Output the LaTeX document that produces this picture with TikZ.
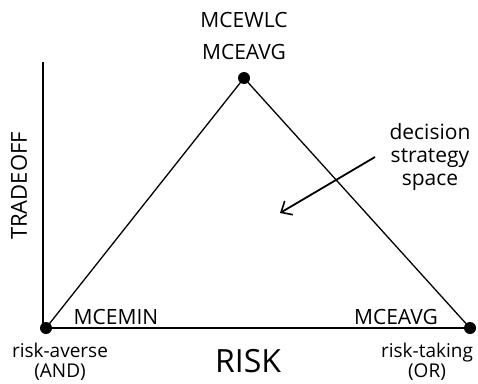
\documentclass[tikz,border=0pt]{standalone}
\usepackage{fontspec}
\setmainfont{Open Sans}
\usetikzlibrary{arrows.meta, positioning}

\begin{document}
\begin{tikzpicture}[
                x=1pt, y=-1pt,
                dot/.style={circle, fill=black, inner sep=0pt, minimum size=12pt},
                lbl/.style={inner sep=0pt, font=\fontsize{21}{23}\selectfont, align=center},
                small/.style={inner sep=0pt, font=\fontsize{19}{20}\selectfont, align=center},
                big/.style={inner sep=0pt, font=\fontsize{32}{34}\selectfont},
                axis/.style={line width=2.8pt},
                side/.style={line width=1.3pt},
                arrow/.style={-{Straight Barb[length=9pt, width=16pt, line width=1.6pt]}, line width=1.8pt}
            ]
                \useasboundingbox (0,0) rectangle (478,383);
                \node[dot] (averse) at (46,328) {};
                \node[dot] (peak) at (244,78) {};
                \node[dot] (taking) at (470,328) {};
                \coordinate (ytop) at (43,62);
                \coordinate (yfoot) at (43,329);

                \draw[axis] (ytop) -- (yfoot);
                \draw[axis] (averse.center) -- (taking.center);
                \draw[side] (averse.center) -- (peak.center) -- (taking.center);

                \node[lbl] (avgtop) at (244,52) {MCEAVG};
                \node[lbl] (wlc) at (244,20) {MCEWLC};
                \node[lbl] (min) at (116,317) {MCEMIN};
                \node[lbl] (avgright) at (396,317) {MCEAVG};
                \node[small] (left) at (60,362) {risk-averse\\(AND)};
                \node[small] (right) at (427,362) {risk-taking\\(OR)};
                \node[big] (risk) at (248,361) {RISK};
                \node[lbl, rotate=90, font=\fontsize{22}{23}\selectfont] (trade) at (19,186) {TRADEOFF};
                \node[lbl] (space) at (430,157) {decision\\strategy\\space};

                \coordinate (tail) at (375,157);
                \coordinate (tip) at (280,213);
                \draw[arrow] (tail) -- (tip);
            \end{tikzpicture}
\end{document}
